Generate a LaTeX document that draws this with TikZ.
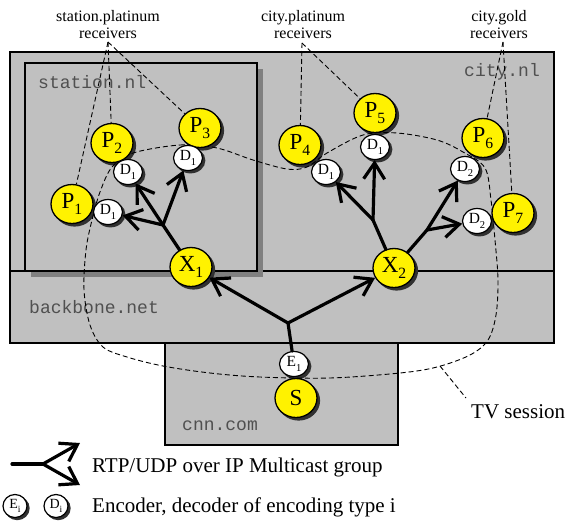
\documentclass[tikz,border=0pt]{standalone}
\usepackage{fontspec}
\usepackage{graphicx}
\setmainfont{Liberation Serif}
\newfontfamily\monofam{Liberation Mono}
\usetikzlibrary{arrows.meta,shapes.geometric}
\definecolor{boxgray}{HTML}{C0C0C0}
\definecolor{shadegray}{HTML}{808080}
\definecolor{lblgray}{HTML}{505050}
\definecolor{nodeshade}{HTML}{303030}
\newcommand{\sbx}[1]{\raisebox{-0.28em}{\scalebox{0.68}{#1}}}
\pgfdeclarelayer{boxes}
\pgfdeclarelayer{shades}
\pgfsetlayers{boxes,shades,main}
\begin{document}
\begin{tikzpicture}[x=1pt,y=-1pt,
  boxst/.style={draw=black, line width=1.5pt, fill=boxgray},
  dom/.style={font=\monofam\fontsize{18}{18}\selectfont, text=lblgray, inner sep=0pt, anchor=base west},
  host/.style={ellipse, draw, line width=1.3pt, fill=yellow, minimum width=42pt, minimum height=39pt, inner sep=0pt, font=\fontsize{23}{23}\selectfont},
  codec/.style={ellipse, draw, line width=1.2pt, fill=white, minimum width=29pt, minimum height=25pt, inner sep=0pt, font=\fontsize{15.5}{15.5}\selectfont},
  legcodec/.style={codec, minimum width=24pt, minimum height=23pt, font=\fontsize{14}{14}\selectfont},
  shade/.style={fill=nodeshade},
  flow/.style={line width=3.2pt, line cap=round, -{Straight Barb[length=16pt,width=21pt]}},
  trunk/.style={line width=3.2pt, line cap=round},
  leader/.style={dash pattern=on 5pt off 3pt, line width=0.9pt},
  toplbl/.style={align=center, font=\fontsize{16}{17}\selectfont, inner sep=0pt},
  legtext/.style={font=\fontsize{21}{21}\selectfont, anchor=base west, inner sep=0pt}
]
\useasboundingbox (0,0) rectangle (565,520);

% domains
\begin{pgfonlayer}{boxes}
\path[boxst] (10,52) rectangle (554,271);
\path[boxst] (10,271) rectangle (554,343);
\path[boxst] (165,343) rectangle (398,445);
\fill[shadegray] (31,69) rectangle (263,277);
\path[boxst] (25,63) rectangle (257,271);
\node[dom] (lstation) at (38,88) {station.nl};
\node[dom] (lcity) at (464,76) {city.nl};
\node[dom] (lbackbone) at (29,313) {backbone.net};
\node[dom] (lcnn) at (182,430) {cnn.com};
\end{pgfonlayer}

% session curve
\draw[leader] plot[smooth cycle, tension=0.55] coordinates {
 (133,153) (180,145) (217,148) (253,160) (287,169) (307,167) (327,153)
 (363,135) (397,133) (437,140) (463,152) (485,168) (491,200) (495,240)
 (498,280) (496,315) (488,340) (470,355) (437,367) (400,373) (330,378)
 (260,377) (210,373) (163,366) (127,357) (103,347) (90,325) (84,290)
 (86,250) (92,220) (100,192) (112,167)};

% hosts
\node[host] (P1) at (72,204) {P\sbx{1}};
\node[host] (P2) at (112,143) {P\sbx{2}};
\node[host] (P3) at (200,128) {P\sbx{3}};
\node[host] (P4) at (300,145) {P\sbx{4}};
\node[host] (P5) at (375,113) {P\sbx{5}};
\node[host] (P6) at (483,138) {P\sbx{6}};
\node[host] (P7) at (513,213) {P\sbx{7}};
\node[host] (X1) at (191,267) {X\sbx{1}};
\node[host] (X2) at (394,268) {X\sbx{2}};
\node[host] (S) at (296,398) {S};

% codecs
\node[codec] (D1a) at (108,212) {D\sbx{1}};
\node[codec] (D1b) at (128,172) {D\sbx{1}};
\node[codec] (D1c) at (188,158) {D\sbx{1}};
\node[codec] (D1d) at (326,172) {D\sbx{1}};
\node[codec] (D1e) at (375,147) {D\sbx{1}};
\node[codec] (D2a) at (465,169) {D\sbx{2}};
\node[codec] (D2b) at (477,221) {D\sbx{2}};
\node[codec] (E1) at (294,364) {E\sbx{1}};

% legend codecs
\node[legcodec] (legE) at (15,506) {E\sbx{i}};
\node[legcodec] (legD) at (56,506) {D\sbx{i}};

% node shadows
\begin{pgfonlayer}{shades}
\foreach \n in {P1,P2,P3,P4,P5,P6,P7,X1,X2,S}
  \fill[shade] ([shift={(2.6,2.6)}]\n.center) ellipse [x radius=21.5pt, y radius=20pt];
\foreach \n in {D1a,D1b,D1c,D1d,D1e,D2a,D2b,E1}
  \fill[shade] ([shift={(2.4,2.4)}]\n.center) ellipse [x radius=15pt, y radius=13pt];
\foreach \n in {legE,legD}
  \fill[shade] ([shift={(2.2,2.2)}]\n.center) ellipse [x radius=12.5pt, y radius=12pt];
\end{pgfonlayer}

% multicast tree
\coordinate (J0) at (288,323);
\coordinate (J1) at (163,225);
\coordinate (J2) at (373,220);
\coordinate (J3) at (427,230);
\draw[trunk] (E1) -- (J0);
\draw[flow] (J0) -- (X1);
\draw[flow] (J0) -- (X2);
\draw[trunk] (X1) -- (J1);
\draw[flow] (J1) -- (D1a);
\draw[flow] (J1) -- (D1b);
\draw[flow] (J1) -- (D1c);
\draw[trunk] (X2) -- (J2);
\draw[trunk] (X2) -- (J3);
\draw[flow] (J2) -- (D1d);
\draw[flow] (J2) -- (D1e);
\draw[flow] (J3) -- (D2a);
\draw[flow] (J3) -- (D2b);

% receiver labels
\node[toplbl] (lab1) at (108,25) {station.platinum\\receivers};
\node[toplbl] (lab2) at (303,25) {city.platinum\\receivers};
\node[toplbl] (lab3) at (499,25) {city.gold\\receivers};
\coordinate (A1) at (108,42);
\coordinate (A2) at (302,43);
\coordinate (A3) at (503,42);
\draw[leader] (A1) -- (P1);
\draw[leader] (A1) -- (P2);
\draw[leader] (A1) -- (P3);
\draw[leader] (A2) -- (P4);
\draw[leader] (A2) -- (P5);
\draw[leader] (A3) -- (P6);
\draw[leader] (A3) -- (P7);

% TV session
\node[legtext] (tv) at (471,418) {TV session};
\coordinate (T0) at (440,366);
\coordinate (T1) at (466,398);
\draw[leader] (T0) -- (T1);

% legend
\coordinate (L0) at (12,464);
\coordinate (LJ) at (43,464);
\coordinate (LA) at (80,443);
\coordinate (LB) at (80,485);
\draw[trunk] (L0) -- (LJ);
\draw[flow] (LJ) -- (LA);
\draw[flow] (LJ) -- (LB);
\node[legtext] (leg1) at (92,472) {RTP/UDP over IP Multicast group};
\node[legtext] (leg2) at (92,512) {Encoder, decoder of encoding type i};
\end{tikzpicture}
\end{document}
